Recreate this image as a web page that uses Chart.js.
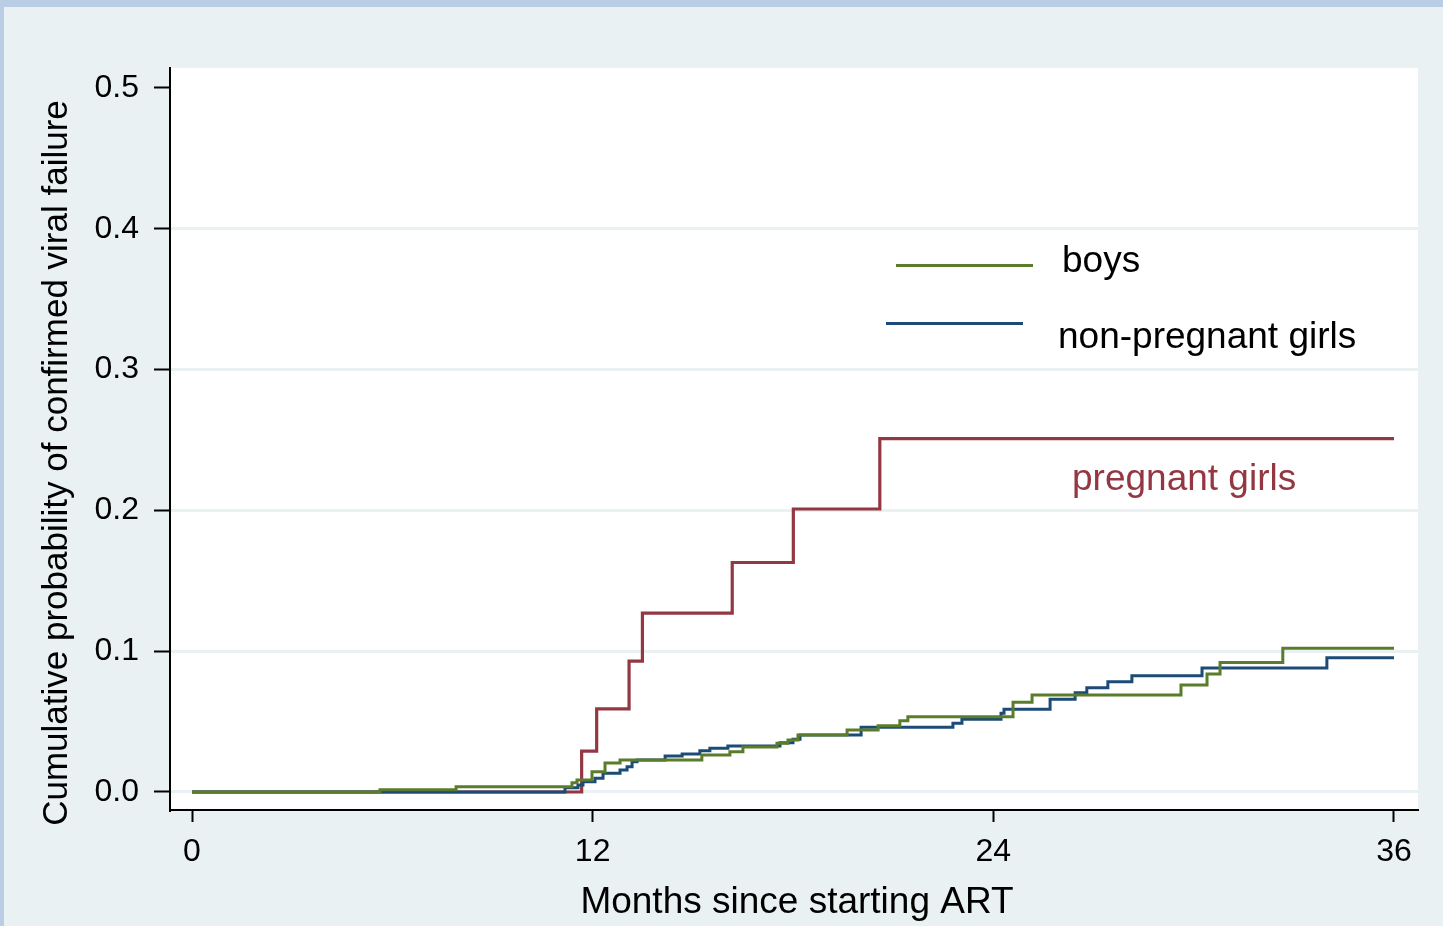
<!DOCTYPE html>
<html lang="en">

<head>
    <meta charset="UTF-8">
    <title>Cumulative probability of confirmed viral failure</title>
    <script src="https://cdn.jsdelivr.net/npm/chart.js"></script>
    <style>
        body { margin: 0; background: #eaf1f3; }
        canvas { display: block; }
    </style>
</head>

<body>
    <canvas id="myChart" width="1443" height="926"></canvas>
    <script>
        // KM step estimates (months, cumulative probability)
        const boysMonths = [0, 5.63, 7.91, 11.38, 11.53, 11.98, 12.37, 12.82, 15.27, 16.11, 16.50, 17.52, 17.85, 18.15, 19.62, 20.55, 21.20, 21.44, 24.59, 25.16, 29.62, 30.40, 30.79, 32.67, 36];
        const boysProb = [0, 0.0015, 0.0038, 0.0066, 0.0085, 0.0144, 0.0206, 0.0227, 0.0263, 0.0286, 0.032, 0.0346, 0.037, 0.0405, 0.044, 0.047, 0.0506, 0.0535, 0.0637, 0.0689, 0.076, 0.0838, 0.092, 0.102, 0.102];

        const girlsMonths = [0, 11.17, 11.56, 11.71, 12.07, 12.31, 12.82, 13.03, 13.18, 13.33, 14.17, 14.68, 15.21, 15.51, 16.05, 17.61, 18.0, 18.21, 20.04, 22.79, 23.06, 24.23, 24.32, 25.70, 26.45, 26.80, 27.43, 28.15, 30.25, 33.99, 36];
        const girlsProb = [0, 0.003, 0.005, 0.0073, 0.0097, 0.0133, 0.0156, 0.018, 0.0215, 0.0227, 0.0256, 0.027, 0.0293, 0.031, 0.0327, 0.035, 0.0374, 0.0405, 0.046, 0.0488, 0.0516, 0.0559, 0.0587, 0.0658, 0.0705, 0.074, 0.0783, 0.0826, 0.088, 0.0954, 0.0954];

        const pregMonths = [0, 11.67, 12.12, 13.09, 13.49, 16.18, 18.01, 20.60, 36];
        const pregProb = [0, 0.029, 0.059, 0.093, 0.127, 0.163, 0.201, 0.251, 0.251];

        const xTicks = [0, 12, 24, 36];
        const yTicks = [0, 0.1, 0.2, 0.3, 0.4, 0.5];

        const GREEN = '#5a7d2b';
        const BLUE = '#1c4b77';
        const RED = '#933843';
        const FONT = "'Liberation Sans', Arial, sans-serif";

        function toPoints(xs, ys) {
            return xs.map((x, i) => ({ x: x, y: ys[i] }));
        }

        const backdrop = {
            id: 'backdrop',
            beforeDraw(chart) {
                const ctx = chart.ctx;
                const a = chart.chartArea;
                ctx.save();
                ctx.fillStyle = '#b9cde5';
                ctx.fillRect(0, 0, chart.width, chart.height);
                ctx.fillStyle = '#eaf1f3';
                ctx.fillRect(4, 7, chart.width - 4, chart.height - 7);
                ctx.fillStyle = '#ffffff';
                ctx.fillRect(a.left, a.top, a.right - a.left, a.bottom - a.top);
                ctx.restore();
            }
        };

        const labels = {
            id: 'labels',
            afterDraw(chart) {
                const ctx = chart.ctx;
                ctx.save();
                // legend keys
                ctx.lineWidth = 3;
                ctx.strokeStyle = GREEN;
                ctx.beginPath(); ctx.moveTo(896, 265.5); ctx.lineTo(1033, 265.5); ctx.stroke();
                ctx.strokeStyle = BLUE;
                ctx.beginPath(); ctx.moveTo(886, 323.5); ctx.lineTo(1023, 323.5); ctx.stroke();

                ctx.font = '37px ' + FONT;
                ctx.textBaseline = 'alphabetic';
                ctx.textAlign = 'left';
                ctx.fillStyle = '#000';
                ctx.fillText('boys', 1062, 272);
                ctx.fillText('non-pregnant girls', 1058, 348);
                ctx.fillStyle = RED;
                ctx.fillText('pregnant girls', 1072, 490);

                // axis titles
                ctx.fillStyle = '#000';
                ctx.textAlign = 'center';
                ctx.fillText('Months since starting ART', 797, 913);
                ctx.font = '35px ' + FONT;
                ctx.translate(67, 463);
                ctx.rotate(-Math.PI / 2);
                ctx.fillText('Cumulative probability of confirmed viral failure', 0, 0);
                ctx.restore();
            }
        };

        const ctx = document.getElementById('myChart');

        new Chart(ctx, {
            type: 'line',
            data: {
                datasets: [{
                    label: 'boys',
                    data: toPoints(boysMonths, boysProb),
                    borderColor: GREEN,
                    borderWidth: 3,
                    stepped: true,
                    pointRadius: 0,
                    fill: false
                }, {
                    label: 'non-pregnant girls',
                    data: toPoints(girlsMonths, girlsProb),
                    borderColor: BLUE,
                    borderWidth: 3,
                    stepped: true,
                    pointRadius: 0,
                    fill: false
                }, {
                    label: 'pregnant girls',
                    data: toPoints(pregMonths, pregProb),
                    borderColor: RED,
                    borderWidth: 3.2,
                    stepped: true,
                    pointRadius: 0,
                    fill: false
                }]
            },
            options: {
                responsive: false,
                animation: false,
                layout: { padding: { left: 0, top: 68, right: 25, bottom: 0 } },
                plugins: {
                    legend: { display: false },
                    tooltip: { enabled: false }
                },
                scales: {
                    x: {
                        type: 'linear',
                        min: -0.659,
                        max: 36.719,
                        afterFit: (s) => { s.height = 116; },
                        afterBuildTicks: (s) => { s.ticks = xTicks.map(v => ({ value: v })); },
                        border: { color: '#000', width: 2 },
                        grid: {
                            drawOnChartArea: false,
                            tickLength: 12,
                            tickColor: '#000',
                            tickWidth: 2
                        },
                        ticks: {
                            autoSkip: false,
                            maxRotation: 0,
                            padding: 11,
                            color: '#000',
                            font: { family: FONT, size: 32 },
                            callback: (v) => String(v)
                        }
                    },
                    y: {
                        type: 'linear',
                        min: -0.0128,
                        max: 0.5142,
                        afterFit: (s) => { s.width = 170; },
                        afterBuildTicks: (s) => { s.ticks = yTicks.map(v => ({ value: v })); },
                        border: { color: '#000', width: 2 },
                        grid: {
                            color: (c) => (c.tick && c.tick.value === 0.5) ? 'rgba(0,0,0,0)' : '#e9f1f3',
                            lineWidth: 3,
                            tickLength: 16,
                            tickColor: '#000',
                            tickWidth: 2
                        },
                        ticks: {
                            autoSkip: false,
                            padding: 15,
                            color: '#000',
                            font: { family: FONT, size: 32 },
                            callback: (v) => Number(v).toFixed(1)
                        }
                    }
                }
            },
            plugins: [backdrop, labels]
        });
    </script>
</body>

</html>
